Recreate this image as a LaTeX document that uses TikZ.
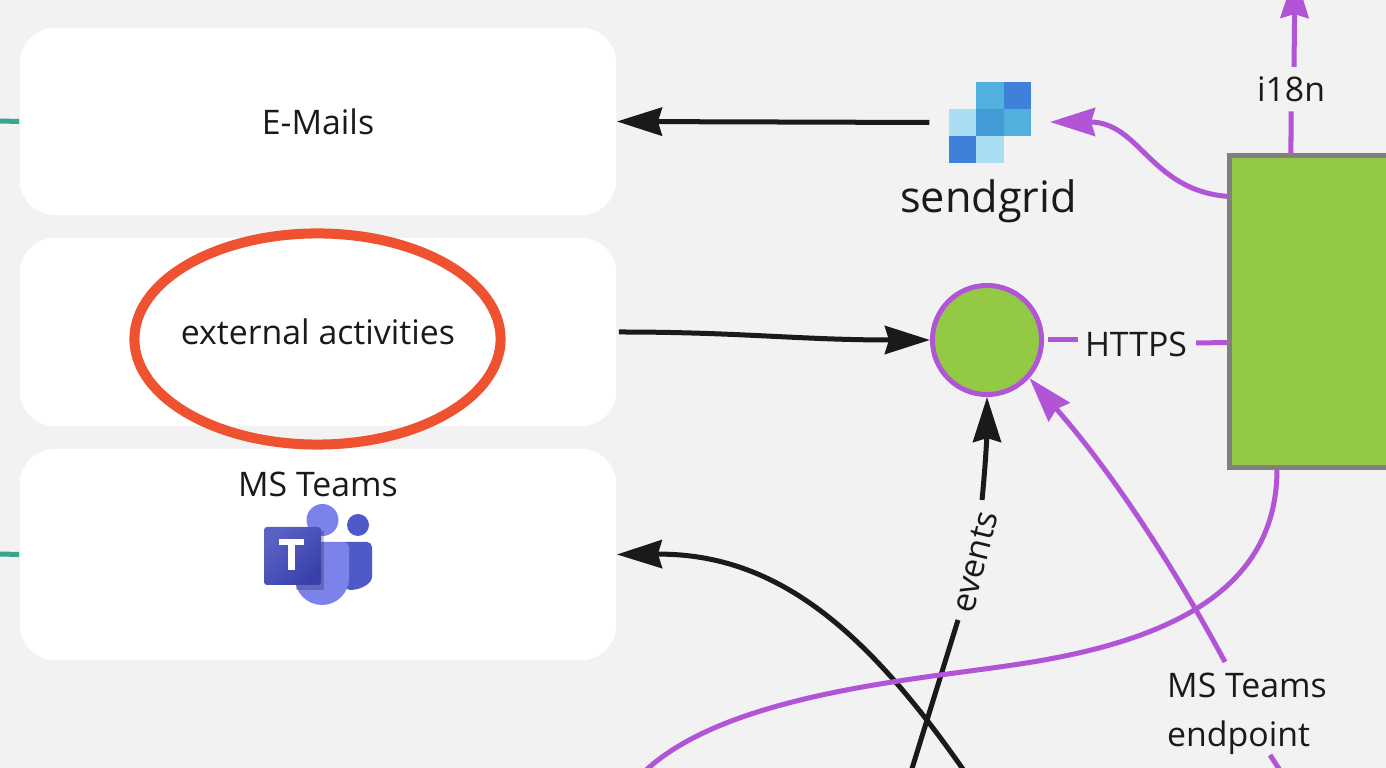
\documentclass[tikz,border=0pt]{standalone}
\usepackage{fontspec}
\setmainfont{Open Sans}
\usetikzlibrary{arrows.meta,shapes.geometric}
\definecolor{pagegray}{HTML}{F2F2F2}
\definecolor{inkblack}{HTML}{1A1A1A}
\definecolor{linkpurple}{HTML}{B154D6}
\definecolor{boxgreen}{HTML}{94C943}
\definecolor{stubteal}{HTML}{3AA58C}
\definecolor{ringred}{HTML}{EE5230}
\definecolor{gridlight}{HTML}{A9DDF2}
\definecolor{gridmid}{HTML}{51B1DE}
\definecolor{gridcore}{HTML}{439BD5}
\definecolor{griddark}{HTML}{3F80DB}
\definecolor{teamsback}{HTML}{5059C9}
\definecolor{teamsfront}{HTML}{7B83EB}
\definecolor{teamstileA}{HTML}{5A62C3}
\definecolor{teamstileB}{HTML}{3940AB}
\tikzset{
    card/.style={fill=white, rounded corners=0.35cm, minimum width=5.96cm, inner sep=0pt, text=inkblack, font=\fontsize{9.62}{11}\selectfont},
    caption/.style={inner sep=0pt, text=inkblack, font=\fontsize{9.62}{11}\selectfont},
    tipped/.style={-{Stealth[length=0.45cm,width=0.28cm,inset=0.04cm]}},
    blackline/.style={draw=inkblack, line width=0.05cm},
    purpleline/.style={draw=linkpurple, line width=0.05cm},
    gridcell/.style={minimum size=0.273cm, inner sep=0pt, fill=#1},
}
\begin{document}
\begin{tikzpicture}[x=0.01cm,y=-0.01cm]
    \useasboundingbox (0,0) rectangle (1386,768);
    \clip (0,0) rectangle (1386,768);
    \fill[pagegray] (0,0) rectangle (1386,768);

    % left column
    \node[card, minimum height=1.87cm] (mails) at (318,121.5) {E-Mails};
    \node[card, minimum height=1.88cm] (external) at (318,332) {external activities};
    \node[card, minimum height=2.11cm] (teams) at (318,554.5) {};
    \node[caption] (teamstitle) at (318,484.5) {MS Teams};
    \node[draw=ringred, line width=0.1cm, ellipse, minimum width=3.66cm, minimum height=2.11cm, inner sep=0pt] (ring) at (317.5,339) {};

    \coordinate (stubA) at (0,121);
    \coordinate (stubB) at (0,554);
    \draw[stubteal, line width=0.05cm] (stubA) -- (mails.west);
    \draw[stubteal, line width=0.05cm] (stubB) -- (teams.west);

    % teams logo
    \fill[teamsfront] (322.5,520) circle (16);
    \fill[teamsback] (358,525) circle (11);
    \fill[teamsback, rounded corners=0.05cm] (340,542) -- (372,542) -- (372,572) .. controls (372,584) and (360,590) .. (345,590) -- cycle;
    \fill[teamsfront] (295,542) -- (344,542) arc (-90:0:5) -- (349,578) arc (0:180:27) -- cycle;
    \fill[inkblack, opacity=0.25] (296,531) rectangle (324,590);
    \shade[left color=teamstileA, right color=teamstileB, shading angle=45, rounded corners=0.03cm] (264,527) rectangle (321,585);
    \fill[white] (279,539) rectangle (304,545);
    \fill[white] (288,539) rectangle (295,570);

    % sendgrid logo
    \node[gridcell=gridmid] (gridA) at (990,95.5) {};
    \node[gridcell=griddark] (gridB) at (1017.3,95.5) {};
    \node[gridcell=gridlight] (gridC) at (962.7,122.5) {};
    \node[gridcell=gridcore] (gridD) at (990,122.5) {};
    \node[gridcell=gridmid] (gridE) at (1017.3,122.5) {};
    \node[gridcell=griddark] (gridF) at (962.7,149.5) {};
    \node[gridcell=gridlight] (gridG) at (990,149.5) {};
    \node[inner sep=0pt, text=inkblack, font=\fontsize{12.3}{14}\selectfont] (sendgrid) at (988.5,201) {sendgrid};

    % services on the right
    \node[draw=gray, fill=boxgreen, line width=0.05cm, rectangle, minimum width=2.7cm, minimum height=3.11cm, inner sep=0pt] (portal) at (1365,311.5) {};
    \node[draw=linkpurple, fill=boxgreen, line width=0.05cm, circle, minimum size=1.09cm, inner sep=0pt] (hook) at (987,340) {};

    \node[caption] (i18n) at (1291,89) {i18n};
    \node[caption] (https) at (1136,344) {HTTPS};
    \node[caption, rotate=76] (events) at (975,562) {events};
    \node[caption, align=left, font=\fontsize{9.62}{13.9}\selectfont] (endpoint) at (1247,714) {MS Teams\\endpoint};

    \coordinate (topend) at (1295,-27);
    \coordinate (eventsfoot) at (910,775);
    \coordinate (teamsfoot) at (967,775);
    \coordinate (portalfoot) at (641,775);
    \coordinate (endpointfoot) at (1283,775);

    % black links
    \path[blackline, tipped] (gridC.west) ++(-0.19cm,0) -- (mails.east);
    \path[blackline, tipped, shorten <=0.02cm] (external.east) .. controls (740,332) and (800,340) .. (hook.west);
    \path[blackline, tipped] (teamsfoot) .. controls (870,635) and (780,553) .. (teams.east);
    \path[blackline] (eventsfoot) -- (958,620);
    \path[blackline, tipped] (982,500) .. controls (986,460) and (987,430) .. (hook.south);

    % purple links
    \path[purpleline, tipped] ([yshift=1.15cm]portal.west) .. controls (1150,190) and (1140,122) .. (1050,122);
    \path[purpleline, shorten >=0.09cm] ([xshift=-0.74cm]portal.north) -- (i18n.south);
    \path[purpleline, tipped] (1294,67) -- (topend);
    \path[purpleline] (hook.east) ++(0.04cm,0) -- (1078,340);
    \path[purpleline] (1196,343) -- ([yshift=-0.31cm]portal.west);
    \path[purpleline] ([xshift=-0.88cm]portal.south) .. controls (1277,600) and (1150,645) .. (1013,665) .. controls (913,680) and (720,695) .. (portalfoot);
    \path[purpleline, tipped] (1225,662) .. controls (1170,560) and (1110,470) .. (hook.-42);
    \path[purpleline] (1270,755) -- (endpointfoot);
\end{tikzpicture}
\end{document}
